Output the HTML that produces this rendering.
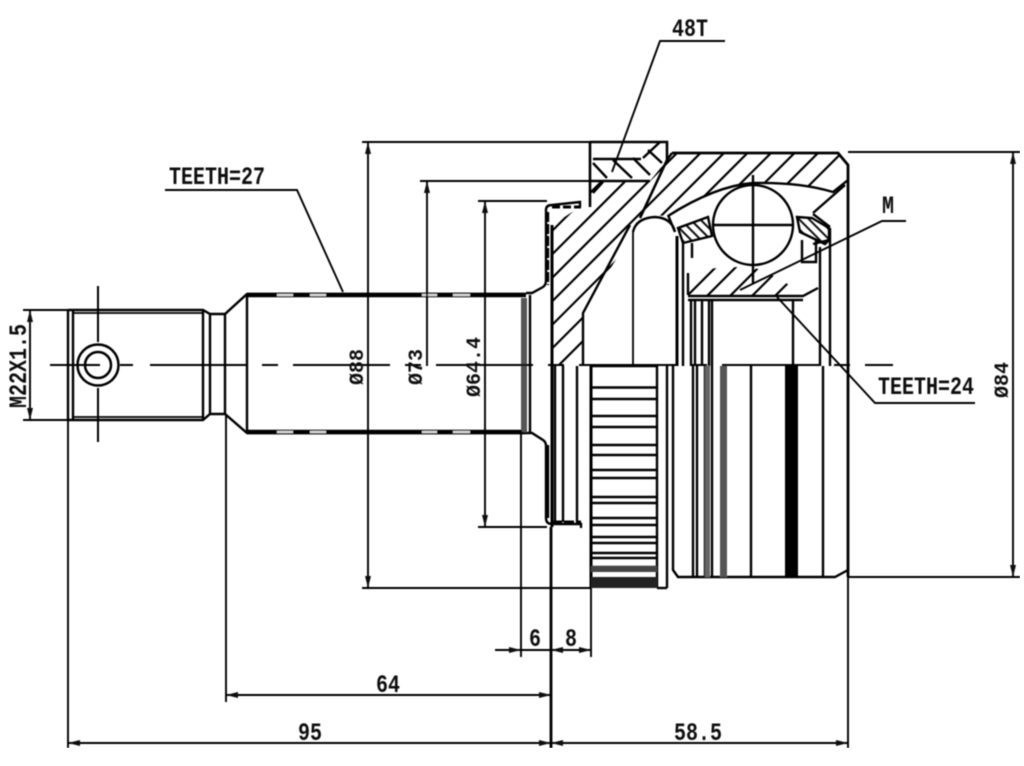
<!DOCTYPE html>
<html><head><meta charset="utf-8"><style>
html,body{margin:0;padding:0;background:#fff;width:1024px;height:766px;overflow:hidden}
svg{display:block}
text{font-family:"Liberation Mono",monospace;font-weight:bold;fill:#111}
.l{font-size:25px}.s{font-size:20px}
</style></head><body>
<svg width="1024" height="766" viewBox="0 0 1024 766" xmlns="http://www.w3.org/2000/svg">
<defs>
<clipPath id="cm"><path d="M552,366V225L580,207H590V181H650L667,160L672,153H838L848,165V180L833,192Q800,182 753,183Q715,186 668,216Q650,214 640,222L633,232L583,313L582,366Z"/></clipPath>
<clipPath id="cr"><path d="M688,273Q720,265 755,268Q780,276 803,296H688Z"/></clipPath>
<pattern id="h2" width="7" height="7" patternUnits="userSpaceOnUse" patternTransform="rotate(45)"><line x1="0" y1="3" x2="7" y2="3" stroke="#111" stroke-width="2"/></pattern>
<filter id="b" x="0" y="0" width="100%" height="100%"><feGaussianBlur stdDeviation="0.45"/></filter>
</defs>
<rect width="1024" height="766" fill="#fff"/>
<g filter="url(#b)">
<g fill="none" stroke="#000" stroke-width="2.4">
<!-- hatched areas -->
<g clip-path="url(#cm)" stroke-width="2.2">
<path d="M383,400L683,100M406.500,400L706.500,100M430,400L730,100M453.500,400L753.500,100M477,400L777,100M500.500,400L800.500,100M524,400L824,100M547.500,400L847.500,100M571,400L871,100M594.500,400L894.500,100"/>
</g>
<g clip-path="url(#cr)" stroke-width="2.2">
<path d="M683,300L733,250M703,300L753,250M726,300L776,250M748,300L798,250M771,300L821,250"/>
</g>
<path d="M678,228L708,217L712,236L683,243Z" fill="url(#h2)"/>
<path d="M797,217L812,218L829,228V240L825,244L800,232Z" fill="url(#h2)"/>
<path d="M593,163L607,178M613,160L632,178M633,158L650,175M648,150L662,163M643,158L660,142M593,193L603,182"/>
<!-- shaft & thread -->
<path d="M68,310H203L210,314H225L247,294H525M68,420H203L210,414H225L247,433H525M68,310V420M73,310V420M203,310V420M210,314V414M225,314V414M247,294V433"/>
<path d="M73,313H203M73,417H203" stroke-width="1.8"/>
<path d="M247,295H526M247,432H526" stroke-width="4.5"/>
<path d="M277,295H293M310,295H326M422,295H437M453,295H470M277,432H293M310,432H326M422,432H437M453,432H470" stroke="#ddd" stroke-width="2"/>
<circle cx="98" cy="365" r="20.5" stroke-width="2.5"/><circle cx="98" cy="365" r="13" stroke-width="2.5"/>
<!-- flange -->
<path d="M526,293H532L543,287Q546,285 546,280V210Q546,205 552,205L580,202V207"/>
<path d="M552,225V527" stroke-width="3"/>
<path d="M548,212V285" stroke-dasharray="10 2"/>
<path d="M526,433H532L543,440Q546,442 546,446V518Q546,524 552,524L581,524V528M548,445V518"/>
<path d="M552,207L581,207" stroke-dasharray="8 3" stroke-width="3"/>
<path d="M552,522H581" stroke-width="3" stroke-dasharray="10 2"/>
<path d="M590,142H667V160L640,218M590,142V207M590,181H650M593,159H641" stroke-width="2.6"/>
<path d="M530,295V432"/>
<path d="M524,298V432" stroke="#555" stroke-width="6"/>
<!-- body outline -->
<path d="M672,153H838L848,165V577" stroke-width="2.8"/>
<path d="M848,180L833,192Q800,182 753,183Q715,186 668,216M675,232Q672,218 655,217Q636,218 633,232M630,225L583,313V366M813,213L845,185M830,227L813,214M668,215L675,232M672,153L667,160"/>
<path d="M633,232V366" stroke-width="1.8"/>
<path d="M677,236V366" stroke-width="3"/>
<path d="M683,240V366"/>
<circle cx="753" cy="225" r="40"/>
<path d="M753,175V283M713,225H793"/>
<path d="M688,273V295M688,296H803L818,288M688,300H803"/>
<path d="M692,243V258M802,240V262H816V240"/>
<path d="M691,300V366M695,300V366M702,300V366M709,300V366M712,300V366M793,300V366M820,247V366M830,228V366M813,244L829,240"/>
<!-- lower half verticals -->
<path d="M555,366V522M563,366V522M577,366V522M657,366V588M667,366V588M673,366V570L678,577H835L848,570M693,366V577M697,366V577M705,366V577M712,366V577M751,366V577M823,366V577"/>
<path d="M591,366V588" stroke-width="3"/>
<path d="M591,366H657M591,387.500H657M591,399H657M591,416H657M591,427H657M591,445H657M591,455H657M591,470H657M591,478H657M591,497H657M591,503H657M591,518H657M591,525H657M591,537H657M591,543H657M591,553H657M591,558H657M591,567H657"/>
<rect x="591" y="566" width="66" height="6" fill="#444" stroke="none"/>
<rect x="591" y="577" width="66" height="11" fill="#222" stroke="none"/>
<path d="M657,588H667"/>
<rect x="785" y="366" width="13" height="211" fill="#000" stroke="none"/>
<rect x="720" y="366" width="7" height="211" fill="#555" stroke="none"/>
<rect x="705" y="366" width="5" height="211" fill="#666" stroke="none"/>
<!-- dimension lines -->
<g stroke-width="1.9">
<path d="M362,142H590M420,181H590M478,201H547M362,588H591M478,527H547"/>
<path d="M368,142V588M427,181V366M485,201V527"/>
<path d="M23,310H68M23,420H68M30,310V420"/>
<path d="M848,152H1020M848,577H1020M1013,152V577"/>
<path d="M68,420V748M226,414V702M521,430V657M591,588V657M848,577V748"/>
<path d="M495,650H590M226,695H551M68,743H848"/>
</g>
<path d="M551,527V748" stroke-width="2.8"/>
<!-- leaders -->
<g stroke-width="1.9">
<path d="M165,190H297L343,292"/>
<path d="M725,41H660L612,172"/>
<path d="M906,221H882L740,290"/>
<path d="M975,403H875L777,297"/>
</g>
<!-- center lines -->
<path d="M50,365H100M120,365H133" stroke-width="2"/>
<path d="M150,365H893" stroke-width="2" stroke-dasharray="97 15 16 15"/>
<path d="M98,286V342M98,388V442" stroke-width="2"/>
</g>
<!-- arrowheads -->
<g fill="#111">
<path d="M30,310l-3,12h6zM30,420l-3,-12h6z"/>
<path d="M368,142l-3,12h6zM427,181l-3,12h6zM485,201l-3,12h6zM368,588l-3,-12h6zM485,527l-3,-12h6z"/>
<path d="M1013,152l-3,12h6zM1013,577l-3,-12h6z"/>
<path d="M68,743l12,-3v6zM551,743l-12,-3v6zM551,743l12,-3v6zM848,743l-12,-3v6z"/>
<path d="M226,695l12,-3v6zM551,695l-12,-3v6z"/>
<path d="M521,650l-12,-3v6zM551,650l12,-3v6zM591,650l-12,-3v6z"/>
</g>
<!-- labels -->
<text class="l" transform="translate(169 184) scale(.8 1)">TEETH=27</text>
<text class="l" transform="translate(672 36) scale(.8 1)">48T</text>
<text class="l" transform="translate(882 213) scale(.8 1)">M</text>
<text class="l" transform="translate(878 394) scale(.8 1)">TEETH=24</text>
<text class="l" transform="translate(529 646) scale(.8 1)">6</text>
<text class="l" transform="translate(565 646) scale(.8 1)">8</text>
<text class="l" transform="translate(376 692) scale(.8 1)">64</text>
<text class="l" transform="translate(298 740) scale(.8 1)">95</text>
<text class="l" transform="translate(674 740) scale(.8 1)">58.5</text>
<text class="l" transform="translate(26 408) rotate(-90) scale(.8 1)">M22X1.5</text>
<text class="s" transform="translate(363 385) rotate(-90)">Ø88</text>
<text class="s" transform="translate(422 385) rotate(-90)">Ø73</text>
<text class="s" transform="translate(480 397) rotate(-90)">Ø64.4</text>
<text class="s" transform="translate(1008 398) rotate(-90)">Ø84</text>
</g>
</svg>
</body></html>
